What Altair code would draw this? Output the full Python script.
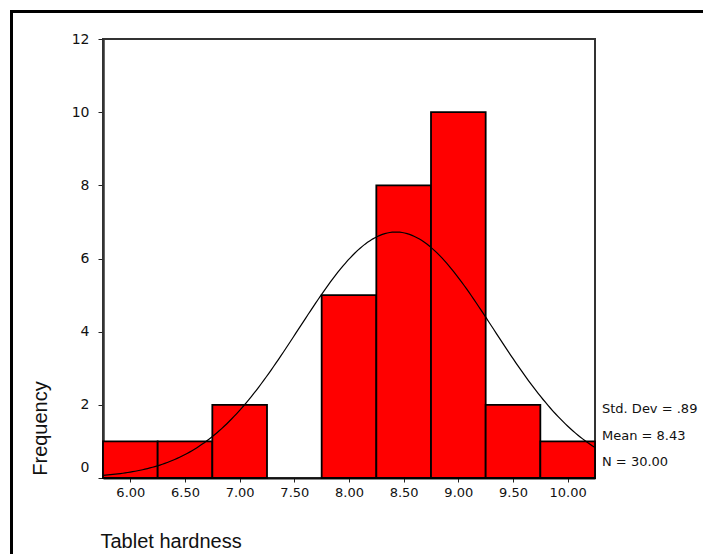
import altair as alt
import numpy as np
import pandas as pd

# Histogram data (bin centers, width 0.5)
bin_centers = [6.00, 6.50, 7.00, 7.50, 8.00, 8.50, 9.00, 9.50, 10.00]
frequencies = [1, 1, 2, 0, 5, 8, 10, 2, 1]
bin_width = 0.5

# Summary statistics shown on the chart
std_dev = 0.89
mean = 8.43
n_obs = 30

x_tick_values = [6.0, 6.5, 7.0, 7.5, 8.0, 8.5, 9.0, 9.5, 10.0]
y_tick_values = [0, 2, 4, 6, 8, 10, 12]
stats_lines = ["Std. Dev = .89", "Mean = 8.43", "N = 30.00"]

bars = pd.DataFrame({
    "center": bin_centers,
    "start": [c - bin_width / 2 for c in bin_centers],
    "end": [c + bin_width / 2 for c in bin_centers],
    "freq": frequencies,
})
bars = bars[bars["freq"] > 0]

# Normal curve fitted from the stated mean / sd / N
xs = np.linspace(5.75, 10.25, 200)
ys = n_obs * bin_width / (std_dev * np.sqrt(2 * np.pi)) * np.exp(-0.5 * ((xs - mean) / std_dev) ** 2)
curve = pd.DataFrame({"x": xs, "y": ys})

W, H = 492, 439
xscale = alt.Scale(domain=[5.75, 10.25], nice=False, zero=False)
yscale = alt.Scale(domain=[0, 12], nice=False)

xaxis = alt.Axis(
    values=x_tick_values, format=".2f", title="Tablet hardness", grid=False,
    labelFont="DejaVu Sans", labelFontSize=13, labelColor="#111", labelPadding=4,
    tickSize=4, tickColor="#222", domainColor="#111", domainWidth=2,
    titleFont="Liberation Sans", titleFontSize=20, titleFontWeight="normal", titleColor="#111",
    titleX=-3, titleY=63, titleAlign="left", titleBaseline="middle", titleAnchor="start",
)
yaxis = alt.Axis(
    values=y_tick_values, title="Frequency", grid=False,
    labelFont="DejaVu Sans", labelFontSize=14, labelColor="#111",
    labelPadding=9,
    labelOffset={"condition": {"test": "datum.value == 0", "value": -11}, "value": 0},
    tickSize=5, tickColor="#222", domainColor="#333", domainWidth=2.5,
    titleFont="Liberation Sans", titleFontSize=20, titleFontWeight="normal", titleColor="#111",
    titleX=-63, titleY=389, titleAngle=-90, titleAlign="center", titleBaseline="middle",
)

bar_layer = alt.Chart(bars).mark_rect(
    color="#FF0000", stroke="#000", strokeWidth=1.8
).encode(
    x=alt.X("start:Q", scale=xscale, axis=xaxis),
    x2="end:Q",
    y=alt.Y("freq:Q", scale=yscale, axis=yaxis),
    y2=alt.datum(0),
)

curve_layer = alt.Chart(curve).mark_line(color="#000", strokeWidth=1.2).encode(
    x=alt.X("x:Q", scale=xscale),
    y=alt.Y("y:Q", scale=yscale),
)

stats_layer = alt.Chart(pd.DataFrame({"t": ["\n".join(stats_lines)]})).mark_text(
    align="left", baseline="middle", font="DejaVu Sans", fontSize=13,
    color="#111", lineBreak="\n", lineHeight=26.5,
).encode(
    x=alt.value(W + 7), y=alt.value(370), text="t:N"
)

frame_df = pd.DataFrame({"k": [0]})
frame_left = alt.Chart(frame_df).mark_rule(color="#000", strokeWidth=3).encode(
    x=alt.value(-91.5), y=alt.value(-29), y2=alt.value(H + 80)
)
frame_top = alt.Chart(frame_df).mark_rule(color="#000", strokeWidth=3).encode(
    x=alt.value(-93), x2=alt.value(W + 110), y=alt.value(-27.5)
)

chart = alt.layer(bar_layer, curve_layer, stats_layer, frame_left, frame_top).properties(
    width=W, height=H,
    autosize=alt.AutoSizeParams(type="none"),
    padding={"left": 103, "top": 39, "right": 108, "bottom": 76},
    background="white",
).configure_view(stroke="#333", strokeWidth=2)

chart.save("out.html", embed_options={"renderer": "svg", "actions": False})
